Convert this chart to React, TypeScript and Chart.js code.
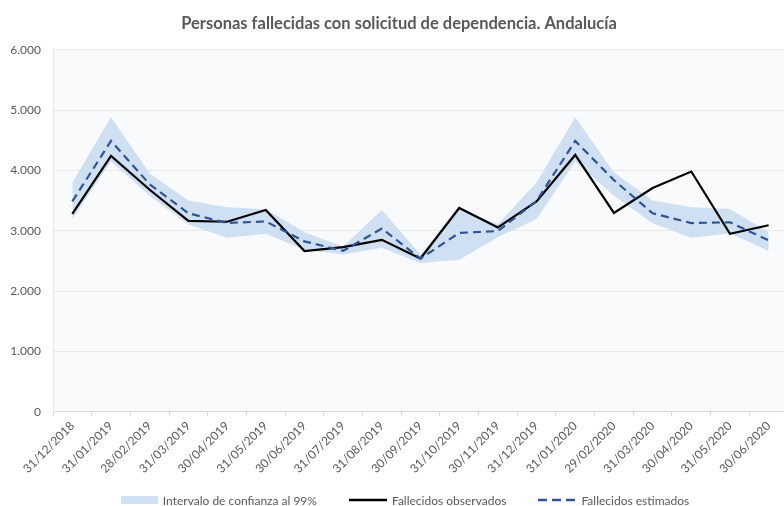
import React, { useEffect, useRef } from "react";
import { Chart, registerables } from "chart.js";

Chart.register(...registerables);

const categories = [
  "31/12/2018", "31/01/2019", "28/02/2019", "31/03/2019", "30/04/2019", "31/05/2019",
  "30/06/2019", "31/07/2019", "31/08/2019", "30/09/2019", "31/10/2019", "30/11/2019",
  "31/12/2019", "31/01/2020", "29/02/2020", "31/03/2020", "30/04/2020", "31/05/2020",
  "30/06/2020",
];

const observed = [3280, 4240, 3680, 3165, 3150, 3345, 2665, 2730, 2850, 2540, 3378, 3055, 3485, 4257, 3296, 3708, 3982, 2950, 3092];
const estimated = [3487, 4490, 3770, 3290, 3130, 3155, 2825, 2668, 3037, 2540, 2965, 2995, 3495, 4490, 3840, 3290, 3128, 3141, 2840];
const upperBand = [3800, 4883, 3950, 3500, 3390, 3356, 2977, 2741, 3345, 2609, 3370, 3110, 3800, 4883, 3965, 3500, 3389, 3362, 2977];
const lowerBand = [3197, 4147, 3581, 3103, 2884, 2950, 2686, 2609, 2719, 2466, 2521, 2894, 3197, 4147, 3581, 3125, 2884, 2960, 2663];

const yTicks = [0, 1000, 2000, 3000, 4000, 5000, 6000];

const legendLabels = ["Intervalo de confianza al 99%", "Fallecidos observados", "Fallecidos estimados"];

const FONT = "Lato, 'Noto Sans', sans-serif";
const TEXT = "#595959";
const BAND = "#cfe0f2";
const BLUE = "#2f5597";

const fmt = (v: number) => String(v).replace(/\B(?=(\d{3})+(?!\d))/g, ".");

const plotBg = {
  id: "plotBg",
  beforeDraw(chart: any) {
    const { ctx, chartArea } = chart;
    if (!chartArea) return;
    ctx.save();
    ctx.fillStyle = "#f9fafc";
    ctx.fillRect(chartArea.left, chartArea.top, chartArea.right - chartArea.left, chartArea.bottom - chartArea.top);
    ctx.restore();
  },
};

function Legend() {
  const item = (marker: React.ReactNode, text: string) => (
    <div style={{ display: "flex", alignItems: "center" }}>
      {marker}
      <span style={{ marginLeft: 5 }}>{text}</span>
    </div>
  );
  return (
    <div
      style={{
        position: "absolute",
        left: 0,
        top: 491,
        width: 784,
        height: 18,
        display: "flex",
        justifyContent: "center",
        alignItems: "center",
        gap: 32,
        paddingLeft: 26,
        boxSizing: "border-box",
        fontFamily: FONT,
        fontSize: 12,
        color: TEXT,
        whiteSpace: "nowrap",
      }}
    >
      {item(<div style={{ width: 37, height: 8, background: BAND }} />, legendLabels[0])}
      {item(
        <svg width={38} height={8}>
          <line x1={0} y1={4} x2={38} y2={4} stroke="#000" strokeWidth={2.5} />
        </svg>,
        legendLabels[1]
      )}
      {item(
        <svg width={38} height={8}>
          <line x1={0} y1={4} x2={38} y2={4} stroke={BLUE} strokeWidth={2.5} strokeDasharray="9 5" />
        </svg>,
        legendLabels[2]
      )}
    </div>
  );
}

export default function App() {
  const ref = useRef<HTMLCanvasElement>(null);

  useEffect(() => {
    document.body.style.margin = "0";
    const canvas = ref.current;
    if (!canvas) return;
    const chart = new Chart(canvas, {
      type: "line",
      data: {
        labels: categories,
        datasets: [
          {
            label: legendLabels[0],
            data: upperBand,
            borderWidth: 0,
            borderColor: "rgba(0,0,0,0)",
            backgroundColor: BAND,
            pointRadius: 0,
            fill: "+1",
            tension: 0,
            order: 5,
          },
          {
            label: "lower",
            data: lowerBand,
            borderWidth: 0,
            borderColor: "rgba(0,0,0,0)",
            backgroundColor: BAND,
            pointRadius: 0,
            fill: false,
            tension: 0,
            order: 4,
          },
          {
            label: legendLabels[1],
            data: observed,
            borderColor: "#000000",
            backgroundColor: "#000000",
            borderWidth: 2.2,
            pointRadius: 0,
            fill: false,
            tension: 0,
            order: 2,
          },
          {
            label: legendLabels[2],
            data: estimated,
            borderColor: BLUE,
            backgroundColor: BLUE,
            borderWidth: 2.2,
            borderDash: [8, 5],
            pointRadius: 0,
            fill: false,
            tension: 0,
            order: 1,
          },
        ],
      },
      options: {
        animation: false,
        responsive: false,
        maintainAspectRatio: false,
        layout: { padding: { left: 10, right: 0, top: 4, bottom: 27 } },
        plugins: {
          title: {
            display: true,
            text: "Personas fallecidas con solicitud de dependencia. Andalucía",
            color: TEXT,
            font: { family: FONT, size: 16.5, weight: "bold" },
            padding: { top: 10, bottom: 16 },
          },
          tooltip: { enabled: false },
          legend: { display: false },
        },
        scales: {
          x: {
            offset: true,
            afterFit: (axis: any) => {
              axis.paddingLeft = 0;
              axis.paddingRight = 0;
            },
            grid: {
              display: true,
              offset: true,
              drawOnChartArea: false,
              drawTicks: true,
              tickLength: 4,
              color: "#d9d9d9",
            },
            border: { display: true, color: "#d9d9d9" },
            ticks: {
              color: TEXT,
              font: { family: FONT, size: 12 },
              minRotation: 45,
              maxRotation: 45,
              autoSkip: false,
              padding: 3,
            },
          },
          y: {
            min: 0,
            max: 6000,
            afterBuildTicks: (axis: any) => {
              axis.ticks = yTicks.map((v) => ({ value: v }));
            },
            afterFit: (axis: any) => {
              axis.width = 43;
            },
            grid: { color: "#e8e8e8", drawTicks: false },
            border: { display: true, color: "#e8e8e8" },
            ticks: {
              color: TEXT,
              font: { family: FONT, size: 12 },
              padding: 12,
              callback: (v: any) => fmt(Number(v)),
            },
          },
        },
      },
      plugins: [plotBg],
    });
    return () => chart.destroy();
  }, []);

  return (
    <div style={{ position: "relative", width: 784, height: 506, overflow: "hidden" }}>
      <canvas ref={ref} width={788} height={506} style={{ display: "block" }} />
      <Legend />
    </div>
  );
}
